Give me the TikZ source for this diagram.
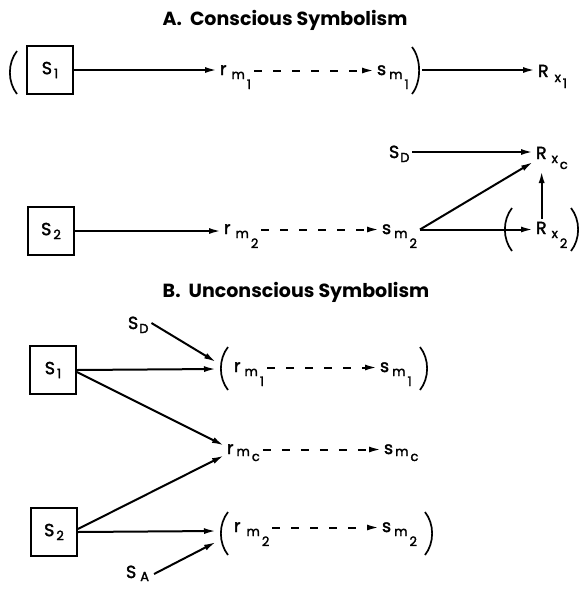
\documentclass[tikz,border=0pt]{standalone}
\usepackage{fontspec}
\setmainfont{Poppins}
\newfontfamily\labfont{Poppins}[FakeBold=2]
\usetikzlibrary{arrows.meta}

\newcommand\mainsz{\fontsize{17.5}{17.5}\selectfont}
\newcommand\subsz{\fontsize{13}{13}\selectfont}
\newcommand\titlesz{\fontsize{19}{19}\selectfont}
% symbol with a stepped double subscript:
% #1 letter, #2 gap, #3 first index, #4 its drop, #5 second index, #6 its drop
\newcommand\lab[6]{#1\kern#2\raisebox{-#4}{\subsz #3}\kern2pt\raisebox{-#6}{\subsz #5}}
% stimulus with a single index
\newcommand\stim[3]{#1\kern#3\raisebox{-4pt}{\subsz #2}}
% large parentheses round a group: x of the bulge, top y, bottom y
\newcommand\lpar[3]{\draw[paren] (#1+7,#2) .. controls (#1-2.5,#2+12) and (#1-2.5,#3-12) .. (#1+7,#3);}
\newcommand\rpar[3]{\draw[paren] (#1-7,#2) .. controls (#1+2.5,#2+12) and (#1+2.5,#3-12) .. (#1-7,#3);}

\tikzset{
  arr/.style={line width=2pt, -{Latex[length=12pt,width=6pt]}},
  dasharr/.style={arr, dash pattern=on 8pt off 11pt},
  stimbox/.style={draw, line width=1.9pt, minimum width=46pt, minimum height=48pt, inner sep=0pt, font=\labfont\mainsz},
  sym/.style={inner sep=0pt, outer sep=3pt, text height=9pt, text depth=0pt, anchor=base west, font=\labfont\mainsz},
  capsym/.style={sym, text height=12pt},
  heading/.style={font=\titlesz\bfseries},
  paren/.style={line width=1.7pt},
}

\begin{document}
\begin{tikzpicture}[x=1pt, y=-1pt]
\useasboundingbox (0,0) rectangle (580,590);

% ---------------- A. Conscious Symbolism ----------------
\node[heading] (titleA) at (285,20) {A.\ \ Conscious Symbolism};

% first chain
\lpar{10}{51}{94}
\node[stimbox] (s1a) at (50,70) {\stim{S}{1}{2pt}};
\node[sym] (rm1a) at (217,75) {\lab{r}{5pt}{m}{4pt}{1}{14pt}};
\node[sym] (sm1a) at (374,75) {\lab{s}{3pt}{m}{4pt}{1}{14pt}};
\rpar{419}{47}{94}
\coordinate (p1) at (422,70);
\node[capsym] (rx1) at (535,77) {\lab{R}{6pt}{x}{5pt}{1}{11pt}};

\draw[arr] (s1a.east) -- (s1a.east -| rm1a.west);
\draw[dasharr] (rm1a.east) -- (sm1a.west);
\draw[arr] (p1) -- (p1 -| rx1.west);

% second chain
\node[stimbox] (s2a) at (51,231) {\stim{S}{2}{2pt}};
\node[sym] (rm2a) at (221,234) {\lab{r}{5pt}{m}{4pt}{2}{14pt}};
\node[sym] (sm2a) at (379,234) {\lab{s}{3pt}{m}{4pt}{2}{14pt}};
\node[capsym] (sda) at (386,158) {\stim{S}{D}{1pt}};
\node[capsym] (rxc) at (533,159) {\lab{R}{5pt}{x}{4pt}{c}{10pt}};
\node[capsym] (rx2) at (533,234) {\lab{R}{5pt}{x}{4pt}{2}{14pt}};
\lpar{505}{208}{251}
\rpar{578}{208}{251}

\draw[arr] (s2a.east) -- (s2a.east -| rm2a.west);
\draw[dasharr] (rm2a.east) -- (sm2a.west);
\draw[arr] (sda.east) -- (sda.east -| rxc.west);
\draw[arr] (sm2a.east) -- (rxc.south west);
\draw[arr] (sm2a.east) -- (sm2a.east -| rx2.west);
\draw[arr] ([xshift=-10pt]rx2.north) -- ([xshift=-10pt,yshift=-9pt]rx2.north |- rxc.south);

% ---------------- B. Unconscious Symbolism ----------------
\node[heading] (titleB) at (296,292) {B.\ \ Unconscious Symbolism};

\node[stimbox] (s1b) at (53,370) {\stim{S}{1}{2pt}};
\node[stimbox] (s2b) at (54,532) {\stim{S}{2}{2pt}};
\node[capsym] (sdb) at (125,329) {\stim{S}{D}{1pt}};
\node[capsym] (sab) at (123,578) {\lab{S}{4pt}{A}{3pt}{}{0pt}};

\node[sym] (rm1b) at (231,372) {\lab{r}{4pt}{m}{4pt}{1}{14pt}};
\node[sym] (sm1b) at (377,372) {\lab{s}{3pt}{m}{4pt}{1}{14pt}};
\node[sym] (rmc)  at (224,454) {\lab{r}{3pt}{m}{2pt}{c}{7pt}};
\node[sym] (smc)  at (381,454) {\lab{s}{2pt}{m}{2pt}{c}{7pt}};
\node[sym] (rm2b) at (231,532) {\lab{r}{6pt}{m}{4pt}{2}{14pt}};
\node[sym] (sm2b) at (379,532) {\lab{s}{3pt}{m}{4pt}{2}{14pt}};

\lpar{221}{347}{390}
\rpar{427}{347}{390}
\lpar{221}{512}{555}
\rpar{432}{512}{555}

\coordinate (pb1) at (216,369);
\coordinate (pb2) at (216,531);

\draw[arr] (sdb.east) -- ([yshift=7pt]pb1);
\draw[arr] (s1b.east) -- (pb1);
\draw[arr] ([yshift=-2pt]s1b.east) -- ([yshift=4pt]rmc.west);
\draw[arr] ([yshift=3pt]s2b.east) -- ([yshift=-6pt]rmc.west);
\draw[arr] (s2b.east) -- (pb2);
\draw[arr] ([yshift=-2pt]sab.east) -- ([yshift=-11pt]pb2);

\draw[dasharr] (rm1b.east) -- (sm1b.west);
\draw[dasharr] (rmc.east) -- (smc.west);
\draw[dasharr] (rm2b.east) -- (sm2b.west);
\end{tikzpicture}
\end{document}
